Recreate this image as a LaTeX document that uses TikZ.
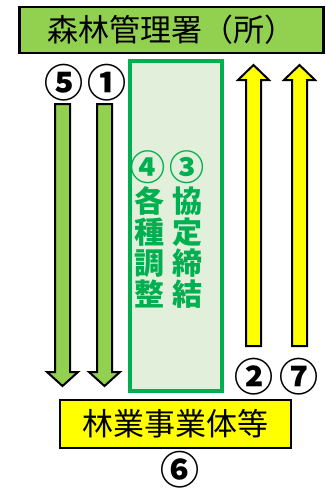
\documentclass[tikz,border=0pt]{standalone}
\usepackage{fontspec}
\newfontfamily\jp{Noto Sans CJK JP}
\definecolor{leaf}{HTML}{92D050}
\definecolor{deepgreen}{HTML}{00B050}
\definecolor{palegreen}{HTML}{E2EFDA}
\definecolor{lemon}{HTML}{FFFF00}
\tikzset{
  namebox/.style={draw=black,line width=2.2pt,inner sep=0pt,
    font=\jp\fontsize{31}{31}\selectfont},
  coltext/.style={text=deepgreen,align=center,inner sep=0pt,
    font=\jp\bfseries\fontsize{30}{31}\selectfont},
  colno/.style={text=deepgreen,inner sep=0pt,font=\jp\bfseries\fontsize{35}{35}\selectfont},
  stepno/.style={inner sep=0pt,font=\jp\bfseries\fontsize{39}{39}\selectfont},
  fatarrow/.style={draw=black,line width=2pt,line join=miter}
}
\begin{document}
\begin{tikzpicture}[x=1pt,y=-1pt]
	\useasboundingbox (0,0) rectangle (325,488);
	% boxes
	\node[namebox,fill=leaf,minimum width=304pt,minimum height=46pt] (office) at (171.5,30) {森林管理署（所）};
	\node[namebox,fill=lemon,minimum width=231pt,minimum height=48pt] (firms) at (175.5,424) {林業事業体等};
	\draw[deepgreen,fill=palegreen,line width=4pt] (130,61) rectangle (222,391);
	\node[coltext] (adjust) at (149,247.5) {各\\種\\調\\整};
	\node[coltext] (agree) at (187,247.5) {協\\定\\締\\結};
	\node[colno] (n4) at (148,167) {④};
	\node[colno] (n3) at (186.5,167) {③};
	% arrows down
	\draw[fatarrow,fill=leaf] (55,104) -- (70,104) -- (70,372) -- (78,372) -- (62.5,386) -- (47,372) -- (55,372) -- cycle;
	\draw[fatarrow,fill=leaf] (97,104) -- (112,104) -- (112,372) -- (120,372) -- (104.5,386) -- (89,372) -- (97,372) -- cycle;
	% arrows up
	\draw[fatarrow,fill=lemon] (246,346) -- (261,346) -- (261,80) -- (269,80) -- (253.5,65) -- (238,80) -- (246,80) -- cycle;
	\draw[fatarrow,fill=lemon] (292,346) -- (307,346) -- (307,80) -- (315,80) -- (299.5,65) -- (284,80) -- (292,80) -- cycle;
	% numbers
	\node[stepno] (n5) at (64.5,83) {⑤};
	\node[stepno] (n1) at (107,83) {①};
	\node[stepno] (n2) at (253.5,377) {②};
	\node[stepno] (n7) at (299,377) {⑦};
	\node[stepno] (n6) at (180,470) {⑥};
\end{tikzpicture}
\end{document}
